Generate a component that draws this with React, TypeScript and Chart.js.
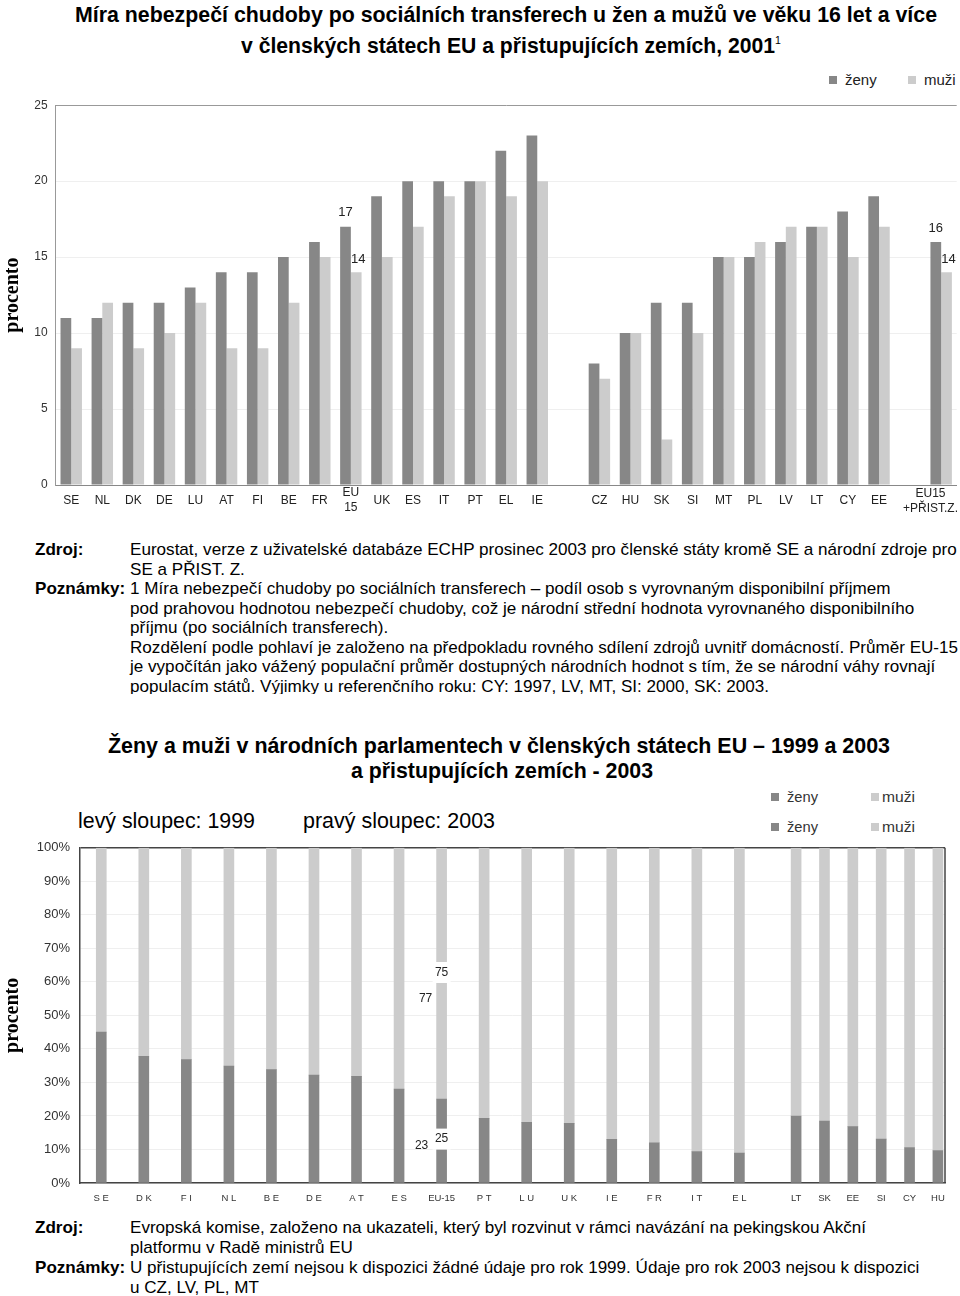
import React, { useEffect, useLayoutEffect, useRef } from "react";
import { Chart, registerables } from "chart.js";

Chart.register(...registerables);

const DARK = "#878787";
const LIGHT = "#cccccc";
const SANS = '"Liberation Sans", Arial, sans-serif';
const SERIF = '"Liberation Serif", "Times New Roman", serif';

// ---------- Chart 1: at-risk-of-poverty rate 2001 ----------
const povertyLabels: (string | string[])[] = [
  "SE", "NL", "DK", "DE", "LU", "AT", "FI", "BE", "FR", ["EU", "15"], "UK", "ES", "IT", "PT", "EL", "IE",
  "",
  "CZ", "HU", "SK", "SI", "MT", "PL", "LV", "LT", "CY", "EE",
  "",
  ["EU15", "+PŘIST.Z."],
];
const povertyWomen = [11, 11, 12, 12, 13, 14, 14, 15, 16, 17, 19, 20, 20, 20, 22, 23, null, 8, 10, 12, 12, 15, 15, 16, 17, 18, 19, null, 16];
const povertyMen = [9, 12, 9, 10, 12, 9, 9, 12, 15, 14, 15, 17, 19, 20, 19, 20, null, 7, 10, 3, 10, 15, 16, 17, 17, 15, 17, null, 14];
const povertyLabelled = [9, 28];
const povertyTicks = [0, 5, 10, 15, 20, 25];

// ---------- Chart 2: women and men in national parliaments ----------
const parlEULabels = ["S E", "D K", "F I", "N L", "B E", "D E", "A T", "E S", "EU-15", "P T", "L U", "U K", "I E", "F R", "I T", "E L"];
const parlEUWomen = [45, 37.8, 36.8, 34.9, 33.8, 32.2, 31.8, 28, 25, 19.3, 18.1, 17.8, 13, 12, 9.4, 8.9];
const parlEUMen = [55, 62.2, 63.2, 65.1, 66.2, 67.8, 68.2, 72, 75, 80.7, 81.9, 82.2, 87, 88, 90.6, 91.1];
const parlAccLabels = ["LT", "SK", "EE", "SI", "CY", "HU"];
const parlAccWomen = [20, 18.5, 16.8, 13.1, 10.6, 9.7];
const parlAccMen = [80, 81.5, 83.2, 86.9, 89.4, 90.3];
const eu15Label = "EU-15";
const eu15Women1999 = 23;
const eu15Men1999 = 77;
const eu15Women2003 = 25;
const eu15Men2003 = 75;

// build category slots (spacing of the original: EU countries 3 slots apart, accession countries 2 slots apart)
function buildParl() {
  const labels: string[] = [""];
  const women: (number | null)[] = [null];
  const men: (number | null)[] = [null];
  parlEULabels.forEach((l, i) => {
    labels.push(l, "", "");
    women.push(parlEUWomen[i], null, null);
    men.push(parlEUMen[i], null, null);
  });
  labels.push("");
  women.push(null);
  men.push(null);
  parlAccLabels.forEach((l, i) => {
    labels.push(l);
    women.push(parlAccWomen[i]);
    men.push(parlAccMen[i]);
    if (i < parlAccLabels.length - 1) {
      labels.push("");
      women.push(null);
      men.push(null);
    }
  });
  return { labels, women, men };
}

const povertyLabelPlugin = {
  id: "povertyLabels",
  afterDatasetsDraw(chart: any) {
    const ctx = chart.ctx;
    ctx.save();
    ctx.font = `13px ${SANS}`;
    ctx.fillStyle = "#222";
    ctx.textAlign = "center";
    ctx.textBaseline = "middle";
    povertyLabelled.forEach((idx) => {
      const b0 = chart.getDatasetMeta(0).data[idx];
      const b1 = chart.getDatasetMeta(1).data[idx];
      ctx.fillText(String(povertyWomen[idx]), b0.x, b0.y - 14);
      ctx.fillText(String(povertyMen[idx]), b1.x + 2, b1.y - 13);
    });
    const last = povertyLabels.length - 1;
    const lab = povertyLabels[last] as string[];
    const x = chart.scales.x.getPixelForTick(last);
    ctx.font = `12px ${SANS}`;
    const w = Math.max(...lab.map((s) => ctx.measureText(s).width));
    const cx = Math.min(x, chart.width - 2 - w / 2);
    const top = chart.chartArea.bottom;
    lab.forEach((s, i) => ctx.fillText(s, cx, top + 9 + i * 15));
    ctx.restore();
  },
};

const parlPlugin = {
  id: "parlExtras",
  afterDatasetsDraw(chart: any) {
    const ctx = chart.ctx;
    const { right, top, bottom } = chart.chartArea;
    ctx.save();
    ctx.strokeStyle = "#444";
    ctx.lineWidth = 1.5;
    ctx.beginPath();
    ctx.moveTo(right, top);
    ctx.lineTo(right, bottom);
    ctx.stroke();
    const idx = chart.data.labels.indexOf(eu15Label);
    const bar = chart.getDatasetMeta(0).data[idx];
    const y = chart.scales.y;
    const x = bar.x;
    ctx.font = `12px ${SANS}`;
    ctx.textAlign = "center";
    ctx.textBaseline = "middle";
    const box = (val: number, yy: number) => {
      ctx.fillStyle = "#fff";
      ctx.fillRect(x - 9, yy - 10.5, 18, 21);
      ctx.fillStyle = "#222";
      ctx.fillText(String(val), x, yy);
    };
    box(eu15Women2003, y.getPixelForValue(eu15Women2003 / 2) - 2);
    box(eu15Men2003, y.getPixelForValue(eu15Women2003 + eu15Men2003 / 2) - 1);
    ctx.fillStyle = "#222";
    ctx.fillText(String(eu15Women1999), x - 20, y.getPixelForValue(eu15Women1999 / 2) + 1);
    ctx.fillText(String(eu15Men1999), x - 16, y.getPixelForValue(eu15Women1999 + eu15Men1999 / 2) + 22);
    ctx.restore();
  },
};

function PovertyChart() {
  const ref = useRef<HTMLCanvasElement>(null);
  useEffect(() => {
    const chart = new Chart(ref.current!, {
      type: "bar",
      data: {
        labels: povertyLabels,
        datasets: [
          { label: "ženy", data: povertyWomen, backgroundColor: DARK, categoryPercentage: 0.69, barPercentage: 1 },
          { label: "muži", data: povertyMen, backgroundColor: LIGHT, categoryPercentage: 0.69, barPercentage: 1 },
        ],
      },
      options: {
        animation: false,
        responsive: false,
        layout: { padding: { top: 10.7, right: 3.3, left: 0, bottom: 0 } },
        plugins: { legend: { display: false }, tooltip: { enabled: false } },
        scales: {
          x: {
            grid: { display: false, drawTicks: false },
            border: { color: "#888" },
            ticks: {
              autoSkip: false,
              maxRotation: 0,
              crossAlign: "center",
              padding: 8,
              color: "#222",
              font: { family: SANS, size: 12 },
              callback: (_v: any, i: number) => (i === povertyLabels.length - 1 ? "" : povertyLabels[i]),
            },
            afterFit: (s: any) => {
              s.height = 35;
              s.paddingLeft = 0;
              s.paddingRight = 0;
            },
          },
          y: {
            min: 0,
            max: 25,
            afterBuildTicks: (s: any) => {
              s.ticks = povertyTicks.map((v) => ({ value: v }));
            },
            ticks: { color: "#333", padding: 8, font: { family: SANS, size: 12 } },
            grid: { color: (c: any) => (c.tick && c.tick.value === 25 ? "#999" : "#efefef"), drawTicks: false },
            border: { color: "#999" },
            title: {
              display: true,
              text: "procento",
              color: "#000",
              font: { family: SERIF, size: 20, weight: "bold" },
              padding: { top: 1, bottom: 0 },
            },
            afterFit: (s: any) => {
              s.width = 55.7;
            },
          },
        },
      },
      plugins: [povertyLabelPlugin],
    } as any);
    return () => chart.destroy();
  }, []);
  return <canvas ref={ref} width={960} height={430} style={{ position: "absolute", left: 0, top: 90, display: "block" }} />;
}

function ParliamentChart() {
  const ref = useRef<HTMLCanvasElement>(null);
  useEffect(() => {
    const { labels, women, men } = buildParl();
    const chart = new Chart(ref.current!, {
      type: "bar",
      data: {
        labels,
        datasets: [
          { label: "ženy", data: women, backgroundColor: DARK, barThickness: 10, stack: "s" },
          { label: "muži", data: men, backgroundColor: LIGHT, barThickness: 10, stack: "s" },
        ],
      },
      options: {
        animation: false,
        responsive: false,
        layout: { padding: { top: 15, right: 15, left: 0, bottom: 0 } },
        plugins: { legend: { display: false }, tooltip: { enabled: false } },
        scales: {
          x: {
            stacked: true,
            grid: { display: false, drawTicks: false },
            border: { color: "#444", width: 1.5 },
            ticks: { autoSkip: false, maxRotation: 0, padding: 10, color: "#333", font: { family: SANS, size: 9.5 } },
            afterFit: (s: any) => {
              s.height = 32;
              s.paddingLeft = 0;
              s.paddingRight = 0;
            },
          },
          y: {
            stacked: true,
            min: 0,
            max: 100,
            ticks: { stepSize: 10, padding: 10, color: "#333", font: { family: SANS, size: 13 }, callback: (v: any) => v + "%" },
            grid: {
              color: (c: any) => (c.tick && c.tick.value === 100 ? "#444" : "#efefef"),
              lineWidth: (c: any) => (c.tick && c.tick.value === 100 ? 1.5 : 1),
              drawTicks: false,
            },
            border: { color: "#444", width: 1.5 },
            title: {
              display: true,
              text: "procento",
              color: "#000",
              font: { family: SERIF, size: 20, weight: "bold" },
              padding: { top: 1, bottom: 0 },
            },
            afterFit: (s: any) => {
              s.width = 80;
            },
          },
        },
      },
      plugins: [parlPlugin],
    } as any);
    return () => chart.destroy();
  }, []);
  return <canvas ref={ref} width={960} height={385} style={{ position: "absolute", left: 0, top: 830, display: "block" }} />;
}

// Text line squeezed horizontally to the width it has in the original
function Fit({ x, cy, w, size, bold, children, color = "#000" }: { x: number; cy: number; w: number; size: number; bold?: boolean; children: React.ReactNode; color?: string }) {
  const ref = useRef<HTMLDivElement>(null);
  useLayoutEffect(() => {
    const el = ref.current!;
    const apply = () => {
      el.style.transform = "none";
      const nat = el.getBoundingClientRect().width;
      if (nat > 0) el.style.transform = `scaleX(${w / nat})`;
    };
    apply();
    if ((document as any).fonts) (document as any).fonts.ready.then(apply);
  }, []);
  const lh = Math.round(size * 1.3);
  return (
    <div
      ref={ref}
      style={{
        position: "absolute",
        left: x,
        top: cy - lh / 2,
        width: "max-content",
        whiteSpace: "nowrap",
        transformOrigin: "left center",
        fontFamily: SANS,
        fontSize: size,
        lineHeight: lh + "px",
        fontWeight: bold ? "bold" : "normal",
        color,
      }}
    >
      {children}
    </div>
  );
}

// Note block: all lines share one horizontal squeeze, taken from a reference line
function Notes({ top, lh, clip, rows, refLine, refWidth }: { top: number; lh: number; clip: number; rows: [string, string][]; refLine: number; refWidth: number }) {
  const ref = useRef<HTMLDivElement>(null);
  useLayoutEffect(() => {
    const el = ref.current!;
    const apply = () => {
      const probe = el.querySelector(`[data-line="${refLine}"]`) as HTMLElement;
      const nat = probe.scrollWidth;
      if (nat > 0) el.style.setProperty("--sx", String(refWidth / nat));
    };
    apply();
    if ((document as any).fonts) (document as any).fonts.ready.then(apply);
  }, []);
  const common: React.CSSProperties = {
    position: "absolute",
    whiteSpace: "nowrap",
    width: "max-content",
    transformOrigin: "left center",
    transform: "scaleX(var(--sx, 1))",
    fontFamily: SANS,
    fontSize: 17,
    lineHeight: lh + "px",
  };
  return (
    <div ref={ref} style={{ position: "absolute", left: 0, top, width: 960, height: clip, overflow: "hidden", color: "#000" }}>
      {rows.map(([label, text], i) => (
        <React.Fragment key={i}>
          {label && <div style={{ ...common, left: 35, top: i * lh, fontWeight: "bold" }}>{label}</div>}
          <div data-line={i} style={{ ...common, left: 130, top: i * lh }}>
            {text}
          </div>
        </React.Fragment>
      ))}
    </div>
  );
}

const sq = (c: string, left: number, top: number): React.CSSProperties => ({ position: "absolute", left, top, width: 8, height: 8, background: c });

export default function App() {
  return (
    <div style={{ position: "absolute", left: 0, top: 0, width: 960, height: 1296, background: "#fff", overflow: "hidden" }}>
      <Fit x={75} cy={14} w={862} size={22} bold>
        Míra nebezpečí chudoby po sociálních transferech u žen a mužů ve věku 16 let a více
      </Fit>
      <Fit x={241} cy={40} w={540} size={22} bold>
        v členských státech EU a přistupujících zemích, 2001
        <sup style={{ fontSize: 11, fontWeight: "normal", verticalAlign: "9px" }}>1</sup>
      </Fit>

      <div style={sq(DARK, 829, 76)} />
      <div style={{ position: "absolute", left: 845, top: 71, fontFamily: SANS, fontSize: 15, lineHeight: "18px", color: "#222" }}>ženy</div>
      <div style={sq(LIGHT, 908, 76)} />
      <div style={{ position: "absolute", left: 924, top: 71, fontFamily: SANS, fontSize: 15, lineHeight: "18px", color: "#222" }}>muži</div>

      <PovertyChart />

      <Notes
        top={540}
        lh={19.5}
        clip={154}
        refLine={0}
        refWidth={827}
        rows={[
          ["Zdroj:", "Eurostat, verze z uživatelské databáze ECHP prosinec 2003 pro členské státy kromě SE a národní zdroje pro"],
          ["", "SE a PŘIST. Z."],
          ["Poznámky:", "1 Míra nebezpečí chudoby po sociálních transferech – podíl osob s vyrovnaným disponibilní příjmem"],
          ["", "pod prahovou hodnotou nebezpečí chudoby, což je národní střední hodnota vyrovnaného disponibilního"],
          ["", "příjmu (po sociálních transferech)."],
          ["", "Rozdělení podle pohlaví je založeno na předpokladu rovného sdílení zdrojů uvnitř domácností. Průměr EU-15"],
          ["", "je vypočítán jako vážený populační průměr dostupných národních hodnot s tím, že se národní váhy rovnají"],
          ["", "populacím států. Výjimky u referenčního roku: CY: 1997, LV, MT, SI: 2000, SK: 2003."],
        ]}
      />

      <Fit x={108} cy={745} w={782} size={22} bold>
        Ženy a muži v národních parlamentech v členských státech EU – 1999 a 2003
      </Fit>
      <Fit x={351} cy={770} w={302} size={22} bold>
        a přistupujících zemích - 2003
      </Fit>
      <Fit x={78} cy={820} w={177} size={22}>
        levý sloupec: 1999
      </Fit>
      <Fit x={303} cy={820} w={192} size={22}>
        pravý sloupec: 2003
      </Fit>

      {[797, 827].map((cy) => (
        <React.Fragment key={cy}>
          <div style={sq(DARK, 771, cy - 4)} />
          <Fit x={787} cy={cy} w={31} size={15} color="#333">
            ženy
          </Fit>
          <div style={sq(LIGHT, 871, cy - 4)} />
          <Fit x={882} cy={cy} w={33} size={15} color="#333">
            muži
          </Fit>
        </React.Fragment>
      ))}

      <ParliamentChart />

      <Notes
        top={1218}
        lh={20}
        clip={78}
        refLine={2}
        refWidth={789}
        rows={[
          ["Zdroj:", "Evropská komise, založeno na ukazateli, který byl rozvinut v rámci navázání na pekingskou Akční"],
          ["", "platformu v Radě ministrů EU"],
          ["Poznámky:", "U přistupujících zemí nejsou k dispozici žádné údaje pro rok 1999. Údaje pro rok 2003 nejsou k dispozici"],
          ["", "u CZ, LV, PL, MT"],
        ]}
      />
    </div>
  );
}
